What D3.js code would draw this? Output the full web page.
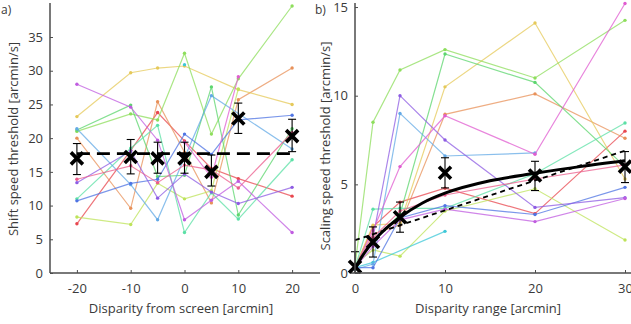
<!DOCTYPE html>
<html><head><meta charset="utf-8">
<script src="https://cdn.jsdelivr.net/npm/d3@7"></script>
<style>
html,body{margin:0;padding:0;background:#fff;}
svg{display:block;font-family:"Open Sans",sans-serif;}
</style></head><body>
<svg id="c" width="631" height="324"></svg>
<script>
// ---------- data: panel a ----------
const aX = [-20, -10, -5, 0, 5, 10, 20];
const aTicksX = [-20, -10, 0, 10, 20];
const aTicksY = [0, 5, 10, 15, 20, 25, 30, 35];
const aSubjects = [
  {color:"#e8474f", v:[7.3, 18.2, 23.8, 19.6, 15.5, 14.0, 11.4]},
  {color:"#e8915a", v:[20.0, 9.6, 25.4, 17.9, 10.4, 25.7, 30.4]},
  {color:"#e5c95a", v:[23.2, 29.7, 30.4, 30.7, null, 27.2, 25.0]},
  {color:"#bde35a", v:[8.3, 7.2, 13.3, 11.0, 12.2, 27.3, null]},
  {color:"#8ede5c", v:[21.0, 23.6, 22.7, 32.6, 20.6, 28.8, 39.6]},
  {color:"#5cd66e", v:[21.2, 24.9, 14.3, 14.5, 27.6, 8.6, 21.4]},
  {color:"#5ce0a6", v:[11.0, 18.5, 21.9, 6.0, 11.9, 8.0, 16.8]},
  {color:"#3ec8d8", v:[null, null, null, 30.9, null, null, null]},
  {color:"#63a9e6", v:[21.4, 13.1, 7.9, null, 26.3, null, 18.4]},
  {color:"#4f74e3", v:[10.7, 13.3, 13.9, 20.6, 17.6, 22.7, 23.4]},
  {color:"#8e5ce3", v:[13.4, 18.1, 11.1, 14.7, 12.0, 10.3, 12.7]},
  {color:"#c05ce0", v:[28.0, 24.6, 19.7, 7.9, 10.8, 13.6, 6.0]},
  {color:"#e05cd0", v:[null, null, null, 19.4, 14.2, 29.1, null]},
  {color:"#eb5c8c", v:[13.9, 15.9, 13.4, 16.0, 15.3, 12.6, 20.8]}
];
const aMean = [17.0, 17.2, 17.0, 17.0, 15.0, 22.9, 20.3];
const aLow  = [14.6, 14.7, 14.8, 14.8, 12.9, 20.7, 18.0];
const aHigh = [19.2, 19.8, 19.4, 19.4, 17.5, 25.2, 22.8];
const aFitLevel = 17.7;

// ---------- data: panel b ----------
const bX = [0, 2, 5, 10, 20, 30];
const bTicksX = [0, 10, 20, 30];
const bTicksY = [0, 5, 10, 15];
const bSubjects = [
  {color:"#e8474f", v:[0.3, 2.6, 4.0, 4.78, 3.35, 8.0]},
  {color:"#e8915a", v:[0.3, 2.2, 2.7, 8.95, 10.1, 7.6]},
  {color:"#e5c95a", v:[0.3, 2.7, 2.8, 10.5, 14.1, 5.3]},
  {color:"#bde35a", v:[0.5, 1.3, 0.95, 3.5, 4.75, 1.86]},
  {color:"#8ede5c", v:[0.4, 8.5, 11.45, 12.6, 11.0, 14.25]},
  {color:"#5cd66e", v:[0.3, 1.8, 3.3, 12.35, 10.75, 6.0]},
  {color:"#5ce0a6", v:[0.3, 3.6, 3.65, 3.65, 5.6, 8.46]},
  {color:"#3ec8d8", v:[0.3, 0.6, null, 2.35, null, null]},
  {color:"#63a9e6", v:[0.2, 0.5, 9.0, 6.6, 6.77, null]},
  {color:"#4f74e3", v:[0.3, 0.3, 3.1, 3.8, 3.3, 4.83]},
  {color:"#8e5ce3", v:[0.3, 2.0, 10.0, 7.5, 3.7, 4.25]},
  {color:"#c05ce0", v:[0.3, 1.5, 3.0, 3.6, 2.9, 4.2]},
  {color:"#e05cd0", v:[0.3, 2.4, 6.0, 8.87, 6.7, 15.2]},
  {color:"#eb5c8c", v:[0.3, 2.0, 3.5, 4.4, 5.3, 6.1]}
];
const bMean = [0.35, 1.75, 3.15, 5.65, 5.5, 6.0];
const bLow  = [0.0, 0.9, 2.3, 4.8, 4.65, 5.1];
const bHigh = [1.2, 2.6, 4.0, 6.5, 6.3, 6.85];
const bCurveX = [0, 0.5, 1, 2, 3, 5, 7.5, 10, 15, 20, 25, 30];
const bCurveY = [0.2, 0.7, 1.1, 1.77, 2.3, 3.14, 3.95, 4.5, 5.2, 5.62, 6.0, 6.33];
const bLineX = [0, 30];
const bLineY = [1.85, 6.9];

// ---------- drawing ----------
const svg = d3.select("#c");
const axisColor = "#4d4d4d", textColor = "#3a3a3a";

function panel(opts){
  const g = svg.append("g");
  const x = d3.scaleLinear().domain(opts.xDomain).range(opts.xRange);
  const y = d3.scaleLinear().domain(opts.yDomain).range(opts.yRange);

  opts.subjects.forEach(s=>{
    const pts = opts.xs.map((xv,i)=>[xv, s.v[i]]).filter(p=>p[1]!=null);
    g.append("path").datum(pts)
      .attr("fill","none").attr("stroke",s.color).attr("stroke-width",1.2).attr("opacity",0.75)
      .attr("d", d3.line().x(p=>x(p[0])).y(p=>y(p[1])));
    g.selectAll(null).data(pts).enter().append("circle")
      .attr("cx",p=>x(p[0])).attr("cy",p=>y(p[1])).attr("r",1.7)
      .attr("fill",s.color);
  });

  opts.drawFit(g, x, y);

  opts.xs.forEach((xv,i)=>{
    const cx = x(xv);
    g.append("line").attr("x1",cx).attr("x2",cx).attr("y1",y(opts.low[i])).attr("y2",y(opts.high[i]))
      .attr("stroke","#000").attr("stroke-width",1.1);
    [opts.low[i], opts.high[i]].forEach(v=>{
      g.append("line").attr("x1",cx-4).attr("x2",cx+4).attr("y1",y(v)).attr("y2",y(v))
        .attr("stroke","#000").attr("stroke-width",1.1);
    });
    const my = y(opts.mean[i]), s = 6;
    g.append("path").attr("d",`M${cx-s},${my-s}L${cx+s},${my+s}M${cx-s},${my+s}L${cx+s},${my-s}`)
      .attr("stroke","#000").attr("stroke-width",3.6).attr("fill","none");
  });

  const xAxis = g.append("g").attr("transform",`translate(0,${opts.yRange[0]})`)
    .call(d3.axisBottom(x).tickValues(opts.ticksX).tickSize(-3).tickPadding(11).tickFormat(d3.format("d")));
  const yAxis = g.append("g").attr("transform",`translate(${opts.xRange[0]},0)`)
    .call(d3.axisLeft(y).tickValues(opts.ticksY).tickSize(-3).tickPadding(7).tickFormat(d3.format("d")));
  [xAxis,yAxis].forEach(a=>{
    a.select(".domain").remove();
    a.selectAll("line").attr("stroke",axisColor).attr("stroke-width",1);
    a.selectAll("text").attr("fill",textColor).style("font-size","13px").style("font-family","'Open Sans',sans-serif");
  });
  xAxis.selectAll("text").text(d=>d<0?"-"+Math.abs(d):d);
  g.append("line").attr("x1",opts.xRange[0]).attr("x2",opts.axisRight)
    .attr("y1",opts.yRange[0]).attr("y2",opts.yRange[0]).attr("stroke",axisColor).attr("stroke-width",1.5);
  g.append("line").attr("x1",opts.xRange[0]).attr("x2",opts.xRange[0])
    .attr("y1",opts.yRange[0]).attr("y2",opts.axisTop).attr("stroke",axisColor).attr("stroke-width",1.5);

  g.append("text").attr("x",opts.xTitleX).attr("y",313).attr("text-anchor","middle")
    .attr("fill",textColor).style("font-size","13px").text(opts.xTitle);
  g.append("text").attr("transform",`translate(${opts.yTitleX},${opts.yTitleY}) rotate(-90)`)
    .attr("text-anchor","middle").attr("fill",textColor).style("font-size","13px").text(opts.yTitle);
  g.append("text").attr("x",opts.labelX).attr("y",14).attr("fill",textColor)
    .style("font-size","12px").text(opts.label);
}

panel({
  xs:aX, subjects:aSubjects, mean:aMean, low:aLow, high:aHigh,
  xDomain:[-25,25], xRange:[50,319], yDomain:[0,39.6], yRange:[273,6],
  axisRight:320, axisTop:3, ticksX:aTicksX, ticksY:aTicksY,
  xTitle:"Disparity from screen [arcmin]", xTitleX:181,
  yTitle:"Shift speed threshold [arcmin/s]", yTitleX:18, yTitleY:139,
  label:"a)", labelX:1,
  drawFit:(g,x,y)=>{
    g.append("line").attr("x1",x(aX[0])).attr("x2",x(aX[aX.length-1]))
      .attr("y1",y(aFitLevel)).attr("y2",y(aFitLevel))
      .attr("stroke","#000").attr("stroke-width",2.8).attr("stroke-dasharray","13,7");
  }
});

panel({
  xs:bX, subjects:bSubjects, mean:bMean, low:bLow, high:bHigh,
  xDomain:[0,30], xRange:[355,625], yDomain:[0,15.2], yRange:[273,3.5],
  axisRight:631, axisTop:3, ticksX:bTicksX, ticksY:bTicksY,
  xTitle:"Disparity range [arcmin]", xTitleX:488,
  yTitle:"Scaling speed threshold [arcmin/s]", yTitleX:330, yTitleY:146,
  label:"b)", labelX:315,
  drawFit:(g,x,y)=>{
    g.append("path").datum(bLineX.map((v,i)=>[v,bLineY[i]]))
      .attr("fill","none").attr("stroke","#000").attr("stroke-width",1.8).attr("stroke-dasharray","5,4")
      .attr("d", d3.line().x(p=>x(p[0])).y(p=>y(p[1])));
    g.append("path").datum(bCurveX.map((v,i)=>[v,bCurveY[i]]))
      .attr("fill","none").attr("stroke","#000").attr("stroke-width",3)
      .attr("d", d3.line().curve(d3.curveMonotoneX).x(p=>x(p[0])).y(p=>y(p[1])));
  }
});
</script>
</body></html>
